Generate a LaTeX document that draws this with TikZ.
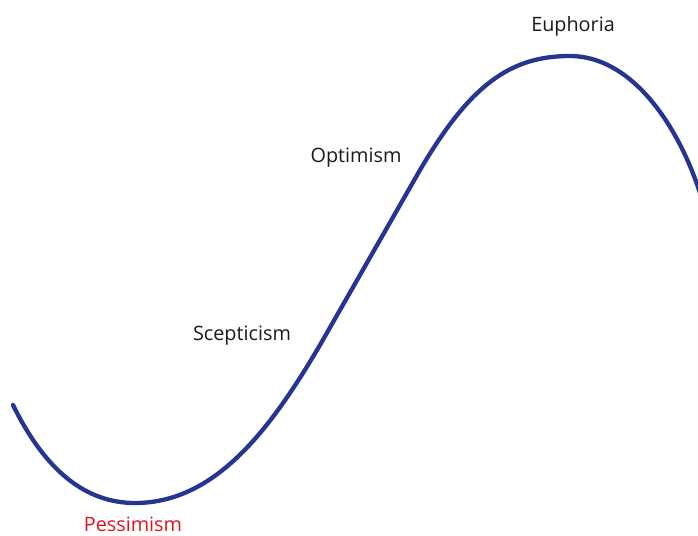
\documentclass[tikz,border=0pt]{standalone}
\usepackage{fontspec}
\setmainfont{Open Sans}
\usetikzlibrary{positioning}
\definecolor{curveblue}{HTML}{263592}
\definecolor{phasered}{HTML}{E2141F}
\definecolor{phasetext}{HTML}{1A1A1A}

\begin{document}
\begin{tikzpicture}[
    x=1pt, y=-1pt,
    phase/.style={font=\fontsize{19.8}{23}\selectfont, text=phasetext, inner sep=0pt},
    cycle/.style={draw=curveblue, line width=4.3pt, line cap=round}
]
\useasboundingbox (0,0) rectangle (698,535);

% Phase labels
\node[phase] (euphoria) at (573,26) {Euphoria};
\node[phase] (optimism) at (356,158) {Optimism};
\node[phase] (scepticism) at (242,336) {Scepticism};
\node[phase, text=phasered] (pessimism) at (133,524) {Pessimism};

% Market cycle curve
\coordinate (start) at (13,405);
\coordinate (trough) at (135,503);
\coordinate (rise) at (320,345);
\coordinate (upper) at (420,170);
\coordinate (peak) at (570,56);
\coordinate (finish) at (700,193);

\draw[cycle] (start) .. controls (45,470) and (85,503) .. (trough)
    .. controls (215,503) and (270,430) .. (rise)
    -- (upper)
    .. controls (470,85) and (510,56) .. (peak)
    .. controls (630,56) and (677,122) .. (finish);
\end{tikzpicture}
\end{document}
